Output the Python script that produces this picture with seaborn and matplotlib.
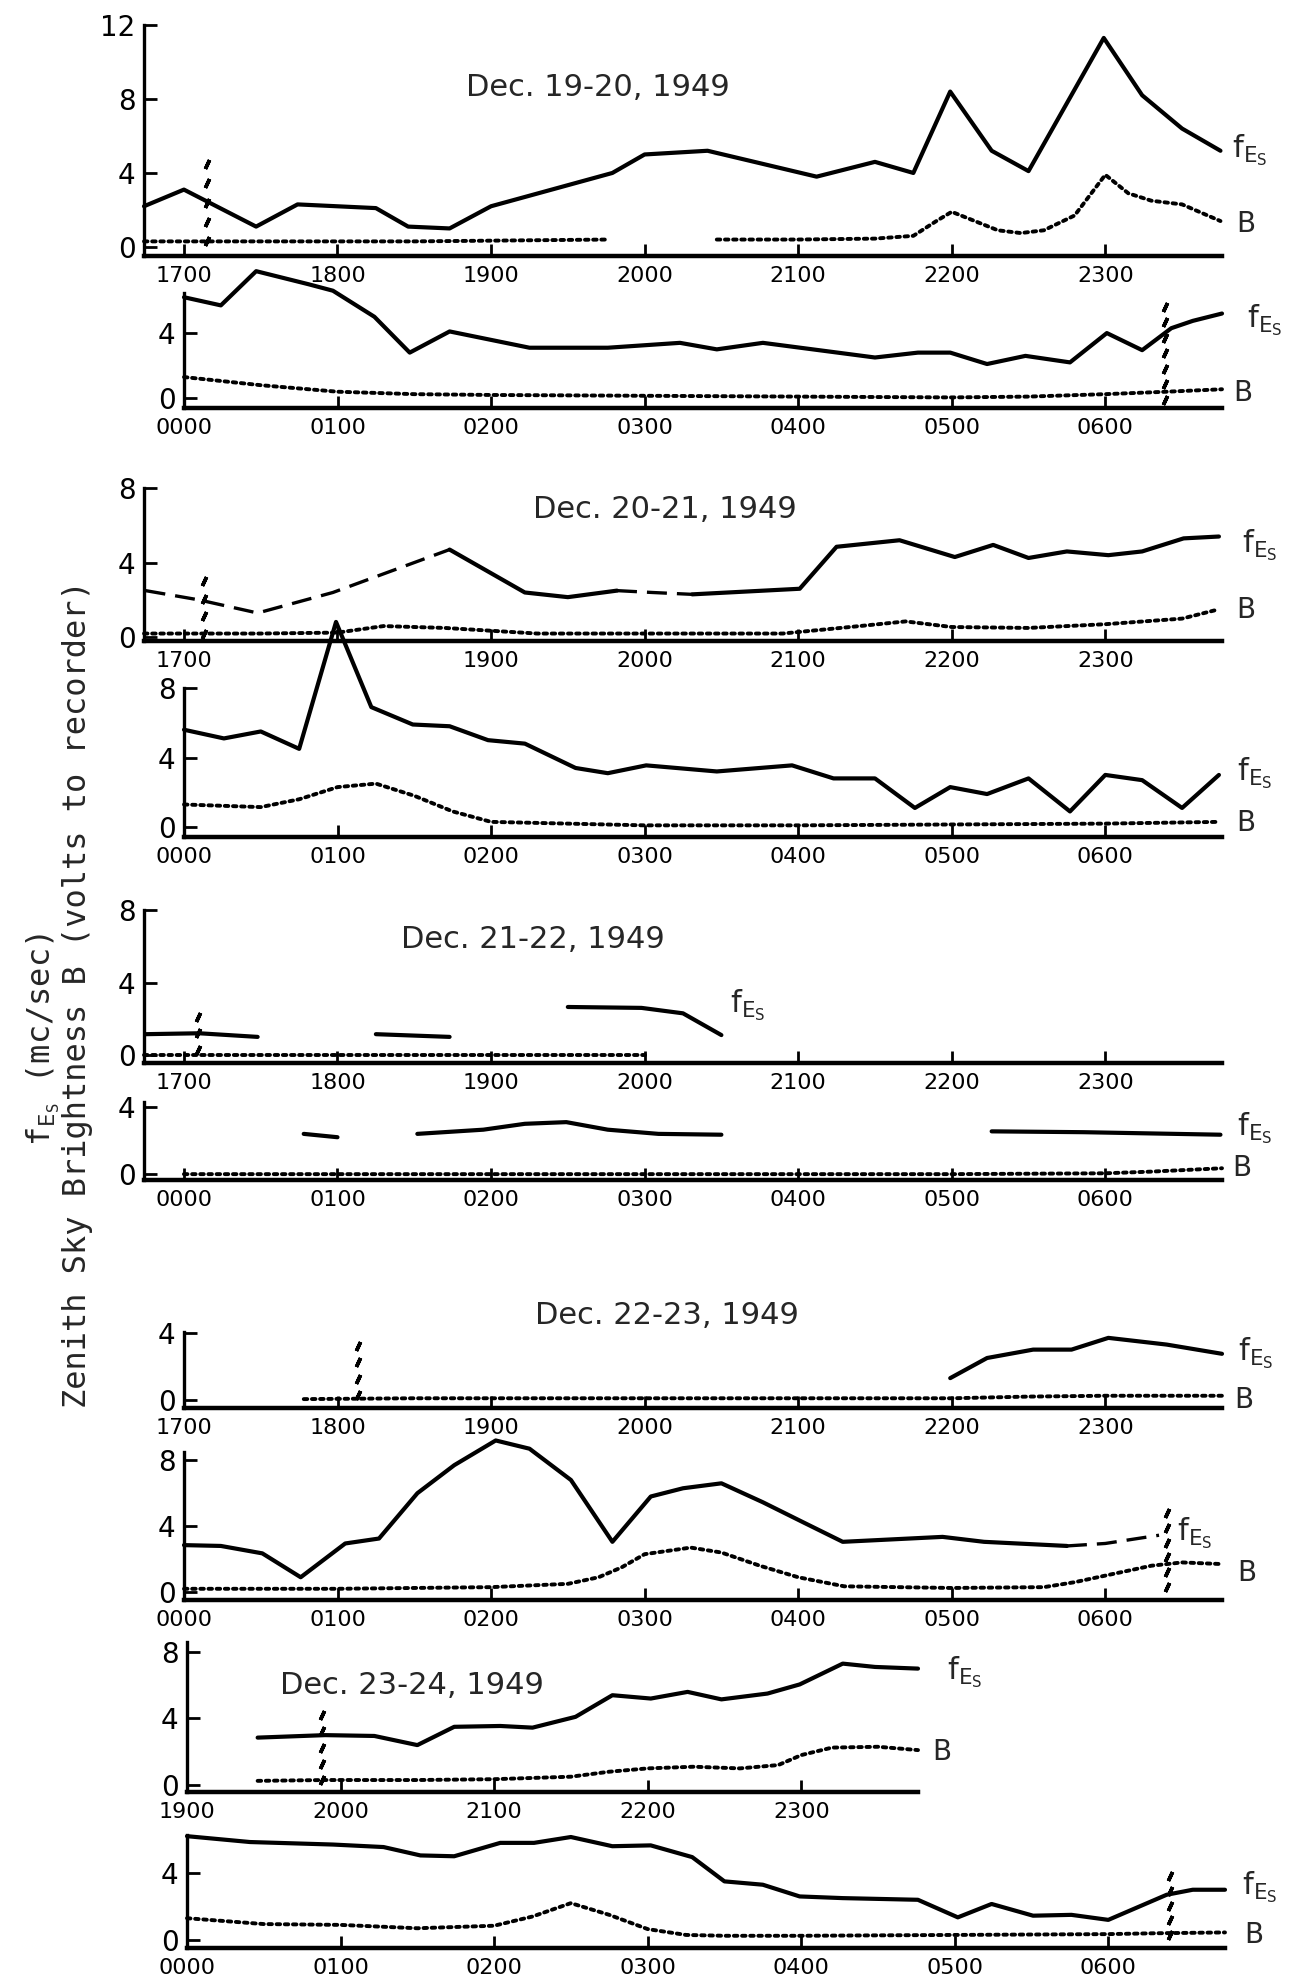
import numpy as np
import matplotlib
matplotlib.use("Agg")
import matplotlib.pyplot as plt
import seaborn as sns

nan = np.nan

# ---- data: time in hours, fEs in mc/sec, B in volts
# Dec. 19-20 evening
p1_t = [16.74, 17.0, 17.47, 17.74, 18.25, 18.46, 18.73, 19.0, 19.79, 20.0, 20.41,
        21.12, 21.5, 21.75, 21.99, 22.26, 22.5, 22.99, 23.24, 23.5, 23.75]
p1_fes = [2.2, 3.1, 1.1, 2.3, 2.1, 1.1, 1.0, 2.2, 4.0, 5.0, 5.2,
          3.8, 4.6, 4.0, 8.4, 5.2, 4.1, 11.3, 8.2, 6.4, 5.2]
p1_tb = [16.74, 17.5, 18.5, 19.76, 20.1, 20.47, 21.0, 21.5, 21.75, 21.9, 22.0,
         22.15, 22.3, 22.45, 22.6, 22.8, 23.0, 23.15, 23.3, 23.5, 23.75]
p1_b = [0.3, 0.3, 0.3, 0.4, nan, 0.4, 0.4, 0.45, 0.6, 1.4, 1.9,
        1.4, 0.9, 0.75, 0.9, 1.7, 3.9, 2.9, 2.5, 2.3, 1.4]
# Dec. 19-20 morning
p2_t = [0.0, 0.24, 0.47, 0.81, 0.97, 1.24, 1.47, 1.73, 2.25, 2.76, 3.23, 3.47,
        3.77, 4.5, 4.78, 4.99, 5.23, 5.48, 5.77, 6.01, 6.24, 6.43, 6.57, 6.76]
p2_fes = [6.2, 5.7, 7.8, 7.0, 6.6, 5.0, 2.8, 4.1, 3.1, 3.1, 3.4, 3.0,
          3.4, 2.5, 2.8, 2.8, 2.1, 2.6, 2.2, 4.0, 2.95, 4.3, 4.75, 5.2]
p2_tb = [0.0, 0.25, 0.5, 0.75, 1.0, 1.5, 2.0, 3.0, 4.0, 5.0, 5.5, 6.0, 6.4, 6.76]
p2_b = [1.3, 1.05, 0.8, 0.6, 0.4, 0.25, 0.2, 0.15, 0.1, 0.05, 0.1, 0.25, 0.4, 0.55]
# Dec. 20-21 evening (dashed = interpolated)
p3_t = [16.75, 17.1, 17.48, 17.97, 18.73, 19.22, 19.5, 19.82, 20.05, 20.31, 21.01,
        21.25, 21.66, 22.02, 22.27, 22.5, 22.75, 23.02, 23.24, 23.51, 23.74]
p3_fes = [nan, nan, nan, nan, 4.7, 2.4, 2.15, 2.5, nan, 2.3, 2.6,
          4.85, 5.2, 4.3, 4.95, 4.25, 4.6, 4.4, 4.6, 5.3, 5.4]
p3_fes_dash = [2.5, 2.0, 1.3, 2.4, 4.7, nan, nan, 2.5, 2.4, 2.3, nan,
               nan, nan, nan, nan, nan, nan, nan, nan, nan, nan]
p3_tb = [16.74, 17.5, 18.0, 18.3, 18.7, 19.3, 20.0, 20.9, 21.4, 21.7, 22.0,
         22.5, 23.0, 23.5, 23.74]
p3_b = [0.2, 0.2, 0.25, 0.6, 0.5, 0.2, 0.2, 0.2, 0.6, 0.85, 0.55,
        0.5, 0.7, 1.0, 1.5]
# Dec. 20-21 morning
p4_t = [0.0, 0.26, 0.5, 0.75, 0.99, 1.22, 1.49, 1.73, 1.98, 2.22, 2.55, 2.76, 3.01,
        3.47, 3.96, 4.23, 4.5, 4.76, 4.99, 5.23, 5.5, 5.77, 6.0, 6.24, 6.5, 6.74]
p4_fes = [5.6, 5.1, 5.5, 4.5, 11.8, 6.9, 5.9, 5.8, 5.0, 4.8, 3.4, 3.1, 3.55,
          3.2, 3.55, 2.8, 2.8, 1.1, 2.3, 1.9, 2.8, 0.9, 3.0, 2.7, 1.1, 3.0]
p4_tb = [0.0, 0.5, 0.75, 1.0, 1.25, 1.5, 1.75, 2.0, 2.5, 3.0, 4.0, 5.0, 6.0, 6.74]
p4_b = [1.3, 1.15, 1.6, 2.3, 2.5, 1.8, 0.9, 0.3, 0.2, 0.1, 0.1, 0.15, 0.2, 0.3]
# Dec. 21-22 evening
p5_t = [16.75, 17.1, 17.48, 18.0, 18.25, 18.73, 19.2, 19.5, 19.98, 20.25, 20.5]
p5_fes = [1.15, 1.2, 1.0, nan, 1.15, 1.0, nan, 2.65, 2.6, 2.3, 1.1]
p5_tb = [16.74, 18.0, 19.0, 20.0]
p5_b = [0.0, 0.0, 0.0, 0.0]
# Dec. 21-22 morning
p6_t = [0.78, 1.0, 1.25, 1.52, 1.95, 2.22, 2.49, 2.76, 3.09, 3.5, 4.4, 5.26, 5.86, 6.75]
p6_fes = [2.4, 2.2, nan, 2.4, 2.65, 3.0, 3.1, 2.65, 2.4, 2.35, nan, 2.55, 2.5, 2.35]
p6_tb = [0.0, 1.0, 2.0, 3.0, 4.0, 5.0, 6.0, 6.3, 6.76]
p6_b = [0.0, 0.0, 0.0, 0.0, 0.0, 0.0, 0.05, 0.15, 0.35]
# Dec. 22-23 evening
p7_t = [21.99, 22.23, 22.53, 22.78, 23.02, 23.4, 23.76]
p7_fes = [1.3, 2.5, 3.0, 3.0, 3.7, 3.3, 2.75]
p7_tb = [17.78, 18.5, 19.5, 20.5, 21.5, 22.0, 22.5, 23.0, 23.76]
p7_b = [0.05, 0.1, 0.1, 0.1, 0.1, 0.1, 0.2, 0.25, 0.25]
# Dec. 22-23 morning
p8_t = [0.0, 0.24, 0.51, 0.76, 1.05, 1.27, 1.52, 1.76, 2.03, 2.25, 2.52, 2.79, 3.04,
        3.25, 3.5, 3.77, 4.04, 4.29, 4.94, 5.21, 5.75, 6.0, 6.35]
p8_fes = [2.85, 2.8, 2.35, 0.9, 2.95, 3.25, 6.0, 7.7, 9.2, 8.7, 6.8, 3.05, 5.8,
          6.3, 6.6, 5.45, 4.2, 3.05, 3.35, 3.05, 2.8, nan, nan]
p8_fes_dash = [nan, nan, nan, nan, nan, nan, nan, nan, nan, nan, nan, nan, nan,
               nan, nan, nan, nan, nan, nan, nan, 2.8, 2.95, 3.45]
p8_tb = [0.0, 1.0, 2.0, 2.5, 2.7, 2.85, 3.0, 3.3, 3.5, 3.75, 4.0, 4.3, 5.0, 5.6,
         5.8, 6.0, 6.3, 6.5, 6.76]
p8_b = [0.2, 0.2, 0.3, 0.5, 0.9, 1.5, 2.3, 2.7, 2.4, 1.6, 0.9, 0.35, 0.25, 0.3,
        0.6, 1.0, 1.6, 1.8, 1.7]
# Dec. 23-24 evening
p9_t = [19.46, 19.9, 20.22, 20.5, 20.74, 21.04, 21.25, 21.53, 21.77, 22.02, 22.26,
        22.48, 22.78, 22.99, 23.27, 23.48, 23.76]
p9_fes = [2.85, 3.0, 2.95, 2.4, 3.5, 3.55, 3.45, 4.1, 5.4, 5.2, 5.6,
          5.15, 5.5, 6.05, 7.3, 7.1, 7.0]
p9_tb = [19.46, 19.9, 20.5, 21.0, 21.5, 21.75, 22.0, 22.3, 22.6, 22.85, 23.0,
         23.2, 23.5, 23.76]
p9_b = [0.25, 0.3, 0.3, 0.35, 0.5, 0.8, 1.0, 1.1, 1.0, 1.2, 1.8, 2.25, 2.3, 2.1]
# Dec. 23-24 morning
p10_t = [0.0, 0.41, 0.95, 1.28, 1.52, 1.74, 2.04, 2.26, 2.5, 2.77, 3.02, 3.29, 3.5,
         3.75, 3.99, 4.27, 4.76, 5.02, 5.24, 5.51, 5.76, 6.0, 6.38, 6.55, 6.76]
p10_fes = [6.2, 5.85, 5.7, 5.55, 5.05, 5.0, 5.8, 5.8, 6.15, 5.6, 5.65, 4.95, 3.5,
           3.3, 2.6, 2.5, 2.4, 1.35, 2.15, 1.45, 1.5, 1.2, 2.7, 3.0, 3.0]
p10_tb = [0.0, 0.5, 1.0, 1.5, 2.0, 2.25, 2.5, 2.75, 3.0, 3.25, 3.5, 4.0, 5.0, 6.0,
          6.3, 6.76]
p10_b = [1.3, 0.95, 0.9, 0.7, 0.85, 1.4, 2.2, 1.5, 0.65, 0.3, 0.25, 0.25, 0.3,
         0.35, 0.4, 0.45]

# sunset / sunrise marks: (time, from, to)
marks = {0: (17.15, 0.0, 4.7), 1: (6.39, -0.4, 5.8), 2: (17.13, -0.1, 3.2),
         4: (17.09, 0.0, 2.3), 6: (18.13, 0.0, 3.4), 7: (6.4, 0.0, 5.0),
         8: (19.88, 0.0, 4.4), 9: (6.4, 0.0, 4.0)}

titles = {0: "Dec. 19-20, 1949", 2: "Dec. 20-21, 1949", 4: "Dec. 21-22, 1949",
          6: "Dec. 22-23, 1949", 8: "Dec. 23-24, 1949"}

sns.set_style("white")
plt.rcParams["font.family"] = ["DejaVu Sans"]
plt.rcParams["mathtext.fontset"] = "dejavusans"

W, H = 1308, 1986
fig = plt.figure(figsize=(W / 100, H / 100), dpi=100)


def px(x, y):
    return x / W, 1 - y / H


SOLID = dict(color="black", lw=3.0, solid_capstyle="round", solid_joinstyle="round")
DOTTED = dict(color="black", lw=2.8, ls=(0, (0.9, 1.2)), dash_capstyle="round")
DASHED = dict(color="black", lw=2.4, ls=(0, (6, 3)))


def draw(ax, t, v, style):
    t = np.asarray(t, float)
    v = np.asarray(v, float)
    ok = ~np.isnan(v)
    edges = np.flatnonzero(np.diff(np.r_[0, ok.astype(int), 0]))
    for a, b in zip(edges[::2], edges[1::2]):
        if b - a < 2:
            continue
        sns.lineplot(x=t[a:b], y=v[a:b], ax=ax, estimator=None, sort=False,
                     clip_on=False, **style)


# layout: pixel box (left, right), (spine bottom, top), limits, ticks
panels = [
    dict(px=(144, 1222), py=(256, 25), xlim=(16.74, 23.76), ylim=(-0.49, 12), yt=[0, 4, 8, 12], base=17),
    dict(px=(184, 1222), py=(408, 293), xlim=(0, 6.76), ylim=(-0.6, 6.46), yt=[0, 4], base=0),
    dict(px=(144, 1222), py=(641, 488), xlim=(16.74, 23.76), ylim=(-0.2, 8), yt=[0, 4, 8], base=17),
    dict(px=(184, 1222), py=(837, 688), xlim=(0, 6.76), ylim=(-0.57, 8), yt=[0, 4, 8], base=0),
    dict(px=(144, 1222), py=(1063, 910), xlim=(16.74, 23.76), ylim=(-0.44, 8), yt=[0, 4, 8], base=17),
    dict(px=(144, 1222), py=(1180, 1102), xlim=(-0.26, 6.76), ylim=(-0.35, 4.3), yt=[0, 4], base=0),
    dict(px=(184, 1222), py=(1408, 1332), xlim=(17, 23.76), ylim=(-0.48, 4.05), yt=[0, 4], base=17),
    dict(px=(184, 1222), py=(1600, 1452), xlim=(0, 6.76), ylim=(-0.48, 8.5), yt=[0, 4, 8], base=0),
    dict(px=(187, 918), py=(1792, 1642), xlim=(19, 23.76), ylim=(-0.42, 8.6), yt=[0, 4, 8], base=19),
    dict(px=(187, 1225), py=(1948, 1835), xlim=(0, 6.76), ylim=(-0.48, 6.27), yt=[0, 4], base=0),
]

series = [
    (p1_t, p1_fes, None, p1_tb, p1_b),
    (p2_t, p2_fes, None, p2_tb, p2_b),
    (p3_t, p3_fes, p3_fes_dash, p3_tb, p3_b),
    (p4_t, p4_fes, None, p4_tb, p4_b),
    (p5_t, p5_fes, None, p5_tb, p5_b),
    (p6_t, p6_fes, None, p6_tb, p6_b),
    (p7_t, p7_fes, None, p7_tb, p7_b),
    (p8_t, p8_fes, p8_fes_dash, p8_tb, p8_b),
    (p9_t, p9_fes, None, p9_tb, p9_b),
    (p10_t, p10_fes, None, p10_tb, p10_b),
]

# label centres in pixels: fEs, B
label_pos = [
    ((1250, 150), (1246, 224)),
    ((1265, 320), (1243, 393)),
    ((1260, 545), (1246, 610)),
    ((1255, 773), (1246, 823)),
    ((748, 1005), None),
    ((1255, 1128), (1242, 1168)),
    ((1256, 1353), (1244, 1400)),
    ((1195, 1533), (1247, 1573)),
    ((965, 1672), (942, 1752)),
    ((1260, 1887), (1254, 1935)),
]
title_pos = {0: (598, 88), 2: (665, 510), 4: (533, 940), 6: (667, 1315), 8: (412, 1685)}

fes_label = r"$\mathregular{f_{E_S}}$"

for i, (lay, (t, fes, fes_d, tb, b)) in enumerate(zip(panels, series)):
    l, r = lay["px"]
    bot, top = lay["py"]
    ax = fig.add_axes([l / W, 1 - bot / H, (r - l) / W, (bot - top) / H])
    ax.set_facecolor("none")
    draw(ax, tb, b, DOTTED)
    draw(ax, t, fes, SOLID)
    if fes_d is not None:
        draw(ax, t, fes_d, DASHED)
    if i in marks:
        mx, y0, y1 = marks[i]
        n = int((y1 - y0) * 1.05) + 1
        ax.plot([mx] * n, np.linspace(y0 + 0.3, y1 - 0.2, n), ls="none",
                marker=(2, 2, -25), ms=7, mew=2.6, color="black", clip_on=False)
    ax.set_xlim(*lay["xlim"])
    ax.set_ylim(*lay["ylim"])
    hours = list(range(lay["base"], lay["base"] + 7)) if lay["base"] != 19 else list(range(19, 24))
    hours = [h for h in hours if h <= lay["xlim"][1]]
    ax.set_xticks(hours)
    labels = ["%02d00" % (h % 24) for h in hours]
    if i == 2:
        labels = ["" if s == "1800" else s for s in labels]
    ax.set_xticklabels(labels)
    ax.set_yticks(lay["yt"])
    ax.set_yticklabels([str(v) for v in lay["yt"]])
    ax.set_xlabel("")
    ax.set_ylabel("")
    sns.despine(ax=ax)
    ax.spines["bottom"].set_linewidth(3.2)
    ax.spines["left"].set_linewidth(2.4)
    ax.spines["bottom"].set_color("black")
    ax.spines["left"].set_color("black")
    ax.tick_params(axis="x", direction="in", length=9, width=2, labelsize=16, pad=7,
                   colors="black", bottom=True)
    ax.tick_params(axis="y", direction="in", length=9, width=2, labelsize=20, pad=6,
                   colors="black", left=True)

    fp, bp = label_pos[i]
    fig.text(*px(*fp), fes_label, fontsize=22, ha="center", va="center")
    if bp is not None:
        fig.text(*px(*bp), "B", fontsize=20, ha="center", va="center")
    if i in titles:
        fig.text(*px(*title_pos[i]), titles[i], fontsize=22, ha="center", va="center")

fig.text(*px(43, 1040), r"$\mathregular{f_{E_S}}$ (mc/sec)", fontsize=23, rotation=90,
         ha="center", va="center", family="DejaVu Sans Mono")
fig.text(*px(78, 994), "Zenith Sky Brightness B (volts to recorder)", fontsize=23,
         rotation=90, ha="center", va="center", family="DejaVu Sans Mono")

fig.savefig("out.png", dpi=100, facecolor="white")
